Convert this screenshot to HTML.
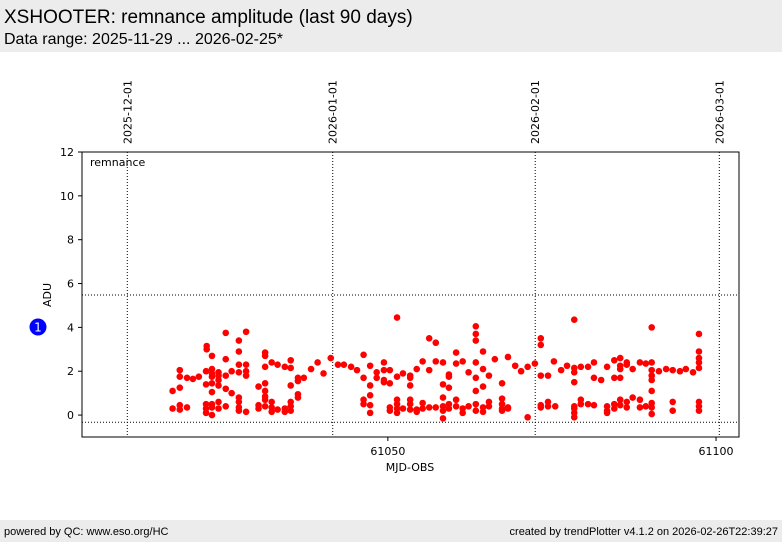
<!DOCTYPE html>
<html><head><meta charset="utf-8"><style>
body{margin:0;width:782px;height:542px;background:#fff;font-family:"Liberation Sans","DejaVu Sans",sans-serif;overflow:hidden;position:relative}
#hdr{position:absolute;left:0;top:0;width:782px;height:52px;background:#ececec}
#t1{position:absolute;left:4px;top:7px;font-size:19px;color:#000}
#t2{position:absolute;left:4px;top:31px;font-size:16px;color:#000}
#ftr{position:absolute;left:0;top:520px;width:782px;height:22px;background:#ececec;font-size:11px}
#fl{position:absolute;left:4px;top:6px}
#fr{position:absolute;right:4px;top:6px}
</style></head><body>
<div id="hdr">
<div id="t1">XSHOOTER: remnance amplitude (last 90 days)</div>
<div id="t2">Data range: 2025-11-29 ... 2026-02-25*</div>
</div>
<svg id="chart" width="782" height="520" style="position:absolute;left:0;top:0" font-family="DejaVu Sans, Liberation Sans, sans-serif"></svg>
<div id="ftr">
<div id="fl">powered by QC: www.eso.org/HC</div>
<div id="fr">created by trendPlotter v4.1.2 on 2026-02-26T22:39:27</div>
</div>
<script>
const nightMjd=[61017.2,61018.3,61019.4,61020.3,61021.2,61022.3,61022.4,61023.2,61024.2,61025.3,61026.2,61027.3,61028.4,61030.3,61031.3,61032.3,61033.2,61034.3,61035.2,61036.3,61037.2,61038.3,61039.3,61040.2,61041.3,61042.4,61043.3,61044.4,61045.3,61046.3,61047.3,61048.3,61049.4,61050.3,61051.4,61052.3,61053.4,61054.4,61055.3,61056.3,61057.3,61058.4,61059.3,61060.4,61061.4,61062.3,61063.4,61064.5,61065.4,61066.3,61067.4,61068.3,61069.4,61070.3,61071.3,61072.4,61073.3,61074.4,61075.3,61075.5,61076.4,61077.3,61078.4,61079.4,61080.5,61081.4,61082.5,61083.4,61084.5,61085.4,61086.4,61087.3,61088.4,61089.3,61090.2,61091.3,61092.4,61093.4,61094.5,61095.4,61096.5,61097.4];
const nightAdu=[[1.1,0.3],[2.05,1.75,1.25,0.45,0.25],[1.7,0.35],[1.65],[1.75],[2.0,1.4,0.5,0.3,0.1],[3.15,3.0],[2.7,2.1,1.9,1.75,1.45,1.05,0.5,0.35,0],[1.95,1.8,1.6,1.35,0.6,0.3],[3.75,2.55,1.8,1.2,0.4],[2.0,1.0],[3.4,2.9,2.3,1.95,0.8,0.6,0.35,0.2],[3.8,2.3,2.0,1.8,0.15],[1.3,0.45,0.3],[2.85,2.7,2.2,1.45,1.1,0.85,0.7,0.4],[2.4,0.6,0.35,0.15],[2.3,0.25],[2.2,0.3,0.15],[2.5,2.15,1.35,0.6,0.4,0.2],[1.7,1.55,0.95,0.8],[1.7],[2.1],[2.4],[1.9],[2.6],[2.3],[2.3],[2.2],[2.05],[2.75,1.7,0.7,0.5],[2.25,1.35,0.9,0.45,0.1],[1.95,1.7],[2.4,2.05,1.6,1.5],[2.05,1.45,0.35,0.2],[4.45,1.75,0.7,0.5,0.3,0.1],[1.9,0.3],[1.8,1.7,1.35,0.7,0.5,0.25],[2.1,0.25,0.15],[2.45,0.55,0.3],[3.5,2.05,0.35],[3.3,2.45,0.35],[2.4,1.4,0.8,0.4,0.2,-0.15],[1.85,1.75,1.25,0.5,0.3],[2.85,2.35,0.7,0.4],[2.45,0.3,0.1],[1.95,0.4],[4.05,3.7,3.4,2.4,1.7,1.1,0.5,0.2],[2.9,2.1,1.3,0.35,0.15],[1.8,0.6,0.4],[2.55],[1.45,0.75,0.5,0.3,0.2],[2.65,0.35,0.3],[2.25],[2.0],[2.2,-0.1],[2.35],[3.5,3.2,1.8,0.45,0.35],[1.8,0.6,0.4],[2.45],[0.4],[2.05],[2.25],[4.35,2.15,1.95,1.5,0.4,0.3,0.1,-0.1],[2.2,0.7,0.5],[2.2,0.5],[2.4,1.7,0.45],[1.6],[2.2,0.4,0.2,0.1],[2.5,1.7,0.5,0.3],[2.6,2.25,2.1,1.7,0.7,0.45],[2.4,2.3,0.6,0.35],[2.1,0.8],[2.4,0.7,0.35],[2.35,0.4],[4.0,2.4,2.05,1.8,1.6,1.1,0.55,0.35,0.05],[2.0],[2.1],[2.05,0.6,0.2],[2.0],[2.1],[1.95],[3.7,2.9,2.6,2.4,2.15,0.6,0.4,0.2]];
const yTicks=[0,2,4,6,8,10,12];
const xTicks=[61050,61100];
const dateLines=[[61010.3,"2025-12-01"],[61041.6,"2026-01-01"],[61072.45,"2026-02-01"],[61100.5,"2026-03-01"]];
const refLines=[5.48,-0.33];
const X0=82,X1=739,Y0=152,Y1=437;
const xMin=61003.4,xMax=61103.5,yMin=-1,yMax=12;
const sx=v=>X0+(v-xMin)/(xMax-xMin)*(X1-X0);
const sy=v=>Y1-(v-yMin)/(yMax-yMin)*(Y1-Y0);
const svg=document.getElementById('chart');const NS='http://www.w3.org/2000/svg';
function mk(t,a,p){const e=document.createElementNS(NS,t);for(const k in a)e.setAttribute(k,a[k]);(p||svg).appendChild(e);return e;}
let e;
e=mk('rect',{x:X0,y:Y0,width:X1-X0,height:Y1-Y0,fill:'#fff',stroke:'#000','stroke-width':1});


dateLines.forEach(d=>{const x=sx(d[0]);
 e=mk('line',{x1:x,x2:x,y1:Y0,y2:Y1,stroke:'#000','stroke-width':1,'stroke-dasharray':'1,2'});
 
 
 e=mk('text',{x:0,y:0,'font-size':11,transform:`translate(${x+4},${Y0-8}) rotate(-90)`});e.textContent=d[1];
 
 });
refLines.forEach(v=>{e=mk('line',{x1:X0,x2:X1,y1:sy(v),y2:sy(v),stroke:'#000','stroke-width':1,'stroke-dasharray':'1,2'});
 
 });
yTicks.forEach(v=>{const y=sy(v);mk('line',{x1:X0-4,x2:X0,y1:y,y2:y,stroke:'#000'});
 e=mk('text',{x:X0-8,y:y+4,'font-size':11,'text-anchor':'end'});e.textContent=v;
 
 });
xTicks.forEach(v=>{const x=sx(v);mk('line',{x1:x,x2:x,y1:Y1,y2:Y1+4,stroke:'#000'});
 e=mk('text',{x:x,y:Y1+18,'font-size':11,'text-anchor':'middle'});e.textContent=v;
 
 });
e=mk('text',{x:410,y:471,'font-size':11,'text-anchor':'middle'});e.textContent='MJD-OBS';


e=mk('text',{x:0,y:0,'font-size':11,'text-anchor':'middle',transform:'translate(51,295) rotate(-90)'});e.textContent='ADU';


e=mk('text',{x:90,y:166,'font-size':11});e.textContent='remnance';


nightMjd.forEach((m,i)=>nightAdu[i].forEach(v=>{
 e=mk('circle',{cx:sx(m),cy:sy(v),r:3.3,fill:'#ff0000'});
 
 }));
e=mk('circle',{cx:38,cy:327,r:8.5,fill:'#0000ff'});


e=mk('text',{x:38,y:331.5,'font-size':12,'text-anchor':'middle',fill:'#fff'});e.textContent='1';


</script>
</body></html>
